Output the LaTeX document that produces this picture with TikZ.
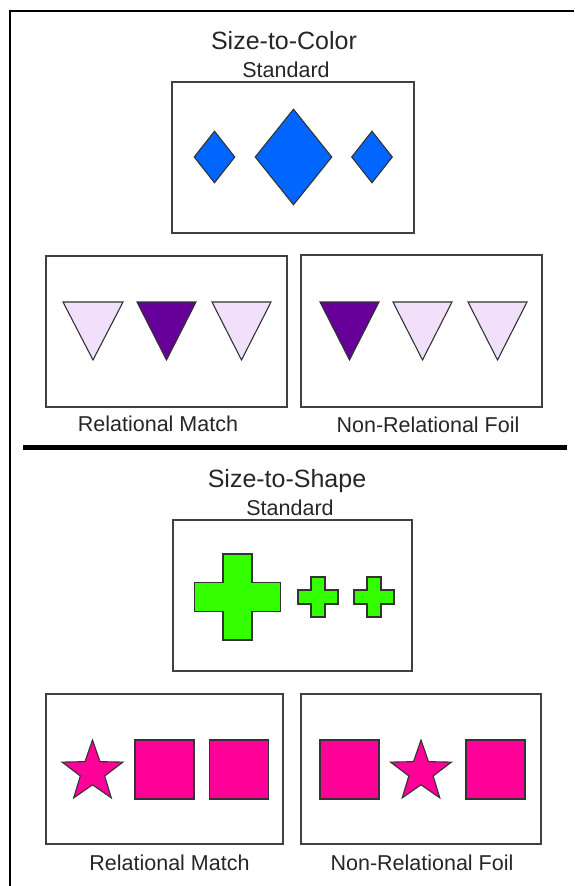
\documentclass[tikz,border=0pt]{standalone}
\usepackage{fontspec}
\setmainfont{Liberation Sans}
\usetikzlibrary{shapes.geometric}
\definecolor{diamondblue}{RGB}{0,102,255}
\definecolor{palelilac}{RGB}{242,224,250}
\definecolor{deeppurple}{RGB}{102,0,153}
\definecolor{brightgreen}{RGB}{51,255,0}
\definecolor{hotpink}{RGB}{255,0,153}
\begin{document}
\begin{tikzpicture}[x=1pt,y=-1pt,
    panel/.style={draw=black!75, line width=1.5pt, inner sep=0pt},
    figure/.style={draw=black!80, line width=1.1pt, line join=miter},
    title/.style={font=\fontsize{25}{30}\selectfont, anchor=base, text=black!85},
    caption/.style={font=\fontsize{21.5}{26}\selectfont, anchor=base, text=black!85},
    gem/.style={figure, shape=diamond, fill=diamondblue, inner sep=0pt},
    tile/.style={figure, shape=rectangle, fill=hotpink, minimum size=59pt, inner sep=0pt},
    spark/.style={figure, shape=star, star points=5, star point ratio=2.5,
      fill=hotpink, minimum size=64pt, inner sep=0pt}]
  \useasboundingbox (0,0) rectangle (574,886);
  % Outer frame
  \draw[line width=2pt] (10,886) -- (10,11) -- (574,11);
  % Size-to-Color standard
  \node[title] (colortitle) at (284,49) {Size-to-Color};
  \node[caption] (colorstdlbl) at (286,77) {Standard};
  \node[panel, minimum width=242pt, minimum height=151pt] (colorstd) at (293,157.5) {};
  \node[gem, minimum width=41pt, minimum height=52pt] (gemleft) at (214.5,157) {};
  \node[gem, minimum width=77pt, minimum height=96pt] (gembig) at (293.5,157) {};
  \node[gem, minimum width=41pt, minimum height=52pt] (gemright) at (372,157) {};
  % Size-to-Color choices
  \node[panel, minimum width=241pt, minimum height=151pt] (colormatch) at (166.5,331.5) {};
  \node[panel, minimum width=241pt, minimum height=152pt] (colorfoil) at (421.5,331) {};
  \draw[figure, fill=palelilac] (63,302) -- (123,302) -- (93,360) -- cycle;
  \draw[figure, fill=deeppurple] (137,302) -- (196,302) -- (166.5,360) -- cycle;
  \draw[figure, fill=palelilac] (212,302) -- (271,302) -- (241.5,360) -- cycle;
  \draw[figure, fill=deeppurple] (320,302) -- (379,302) -- (349.5,360) -- cycle;
  \draw[figure, fill=palelilac] (393,302) -- (452,302) -- (422.5,360) -- cycle;
  \draw[figure, fill=palelilac] (468,302) -- (527,302) -- (497.5,360) -- cycle;
  \node[caption] (colormatchlbl) at (158,431) {Relational Match};
  \node[caption] (colorfoillbl) at (428,432) {Non-Relational Foil};
  % Separator
  \draw[line width=5pt] (23,447.5) -- (567,447.5);
  % Size-to-Shape standard
  \node[title] (shapetitle) at (287,487) {Size-to-Shape};
  \node[caption] (shapestdlbl) at (290,515) {Standard};
  \node[panel, minimum width=239pt, minimum height=151pt] (shapestd) at (292.5,595.5) {};
  \draw[figure, fill=brightgreen] (223,554) -- ++(29,0) -- ++(0,28.5) -- ++(28.5,0)
    -- ++(0,29) -- ++(-28.5,0) -- ++(0,28.5) -- ++(-29,0) -- ++(0,-28.5)
    -- ++(-28.5,0) -- ++(0,-29) -- ++(28.5,0) -- cycle;
  \draw[figure, fill=brightgreen] (311,577) -- ++(14,0) -- ++(0,13) -- ++(13,0)
    -- ++(0,14) -- ++(-13,0) -- ++(0,13) -- ++(-14,0) -- ++(0,-13)
    -- ++(-13,0) -- ++(0,-14) -- ++(13,0) -- cycle;
  \draw[figure, fill=brightgreen] (367,577) -- ++(14,0) -- ++(0,13) -- ++(13,0)
    -- ++(0,14) -- ++(-13,0) -- ++(0,13) -- ++(-14,0) -- ++(0,-13)
    -- ++(-13,0) -- ++(0,-14) -- ++(13,0) -- cycle;
  % Size-to-Shape choices
  \node[panel, minimum width=237pt, minimum height=150pt] (shapematch) at (164.5,769) {};
  \node[panel, minimum width=240pt, minimum height=150pt] (shapefoil) at (421,769) {};
  \node[spark] (starleft) at (92.5,772) {};
  \node[tile] (tileone) at (164.5,769.5) {};
  \node[tile] (tiletwo) at (239,769.5) {};
  \node[tile] (tilethree) at (349.5,769.5) {};
  \node[spark] (starright) at (421,772) {};
  \node[tile] (tilefour) at (495.5,769.5) {};
  \node[caption] (shapematchlbl) at (169.5,870) {Relational Match};
  \node[caption] (shapefoillbl) at (422,870) {Non-Relational Foil};
\end{tikzpicture}
\end{document}
